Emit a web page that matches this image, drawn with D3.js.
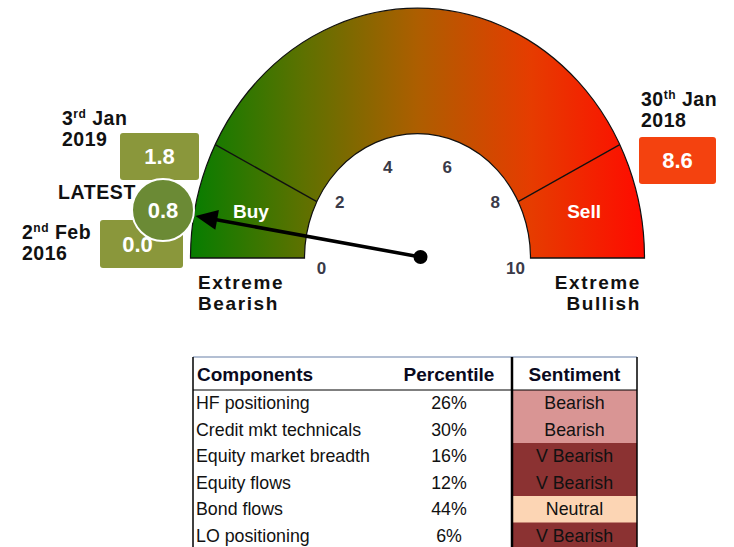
<!DOCTYPE html>
<html>
<head>
<meta charset="utf-8">
<script src="https://cdn.jsdelivr.net/npm/d3@7"></script>
<style>
  body { margin: 0; background: #fff; }
  svg { display: block; font-family: "Liberation Sans", Arial, sans-serif; }
</style>
</head>
<body>
<svg id="chart"></svg>
<script>
// gauge data
const TICKS = [0, 2, 4, 6, 8, 10];
const ZONE_BOUNDS = [1.5, 8.5];
const ZONE_NAMES = ["Buy", "Sell"];
const ZONE_LABEL_AT = [0.8, 9.2];
const LATEST = 0.8;

// historical callouts
const CALLOUT_DAY = ["3", "2", "30"];
const CALLOUT_SUFFIX = ["rd", "nd", "th"];
const CALLOUT_MONTH = ["Jan", "Feb", "Jan"];
const CALLOUT_YEAR = ["2019", "2016", "2018"];
const CALLOUT_VALUES = [1.8, 0.0, 8.6];

// components table
const COMPONENTS = ["HF positioning", "Credit mkt technicals", "Equity market breadth", "Equity flows", "Bond flows", "LO positioning"];
const PERCENTILES = [26, 30, 16, 12, 44, 6];
const SENTIMENTS = ["Bearish", "Bearish", "V Bearish", "V Bearish", "Neutral", "V Bearish"];
const HEADERS = ["Components", "Percentile", "Sentiment"];

const sentimentColor = d3.scaleOrdinal()
  .domain(["Bearish", "V Bearish", "Neutral"])
  .range(["#d99594", "#8b3232", "#fcd5b4"]);

const width = 734;
const height = 547;
const cx = 417.5;
const cy = 258;
const rIn = 113;
const rOut = 227;
const squash = 1.1;

const svg = d3.select("#chart").attr("width", width).attr("height", height);

const angle = d3.scaleLinear().domain([0, 10]).range([-Math.PI / 2, Math.PI / 2]);

// gradient
const defs = svg.append("defs");
const grad = defs.append("linearGradient")
  .attr("id", "gaugeGrad")
  .attr("gradientUnits", "userSpaceOnUse")
  .attr("x1", -rOut).attr("x2", rOut).attr("y1", 0).attr("y2", 0);
[["0", "#067d00"], ["0.25", "#5e7100"], ["0.5", "#ad5e00"], ["0.75", "#e63c00"], ["1", "#ff0a00"]]
  .forEach(([o, c]) => grad.append("stop").attr("offset", o).attr("stop-color", c));

const g = svg.append("g").attr("transform", `translate(${cx},${cy}) scale(1,${squash})`);

const arc = d3.arc().innerRadius(rIn).outerRadius(rOut);
g.append("path")
  .attr("d", arc({ startAngle: angle(0), endAngle: angle(10) }))
  .attr("fill", "url(#gaugeGrad)")
  .attr("stroke", "#111")
  .attr("stroke-width", 1.2);

// zone boundaries
g.selectAll("line.bound")
  .data(ZONE_BOUNDS)
  .join("line")
  .attr("class", "bound")
  .attr("x1", (d) => rIn * Math.sin(angle(d)))
  .attr("y1", (d) => -rIn * Math.cos(angle(d)))
  .attr("x2", (d) => rOut * Math.sin(angle(d)))
  .attr("y2", (d) => -rOut * Math.cos(angle(d)))
  .attr("stroke", "#111")
  .attr("stroke-width", 1.3);

// zone names
svg.selectAll("text.zone")
  .data(ZONE_NAMES)
  .join("text")
  .attr("class", "zone")
  .attr("x", (d, i) => cx + 172 * Math.sin(angle(ZONE_LABEL_AT[i])))
  .attr("y", (d, i) => cy - 172 * Math.cos(angle(ZONE_LABEL_AT[i])) * squash)
  .attr("dy", "0.35em")
  .attr("text-anchor", "middle")
  .attr("font-size", 19)
  .attr("font-weight", "bold")
  .attr("fill", "#fff")
  .text((d) => d);

// tick labels
svg.selectAll("text.tick")
  .data(TICKS)
  .join("text")
  .attr("class", "tick")
  .attr("x", (d) => cx + 96 * Math.sin(angle(d)) + (d === 10 ? 2 : 0))
  .attr("y", (d) => cy - 96 * Math.cos(angle(d)) + (d === 0 || d === 10 ? 10 : 0))
  .attr("dy", "0.35em")
  .attr("text-anchor", "middle")
  .attr("font-size", 17)
  .attr("font-weight", "bold")
  .attr("fill", "#3a3a48")
  .text((d) => d);

// extreme labels
const extremes = [
  { lines: ["Extreme", "Bearish"], x: 198, anchor: "start" },
  { lines: ["Extreme", "Bullish"], x: 641, anchor: "end" },
];
extremes.forEach((e) => {
  svg.append("text")
    .attr("text-anchor", e.anchor)
    .attr("font-size", 19)
    .attr("font-weight", "bold")
    .attr("letter-spacing", 1.6)
    .attr("fill", "#111")
    .selectAll("tspan")
    .data(e.lines)
    .join("tspan")
    .attr("x", e.x)
    .attr("y", (d, i) => 289 + i * 21)
    .text((d) => d);
});

// callouts (layout only)
const calloutLayout = [
  { tx: 62, ty: 125, box: [120, 133, 79, 47], fill: "#8a973b" },
  { tx: 22, ty: 239, box: [100, 220, 83, 48], fill: "#8a973b" },
  { tx: 641, ty: 106, box: [639, 137, 77, 47], fill: "#f4420f" },
];
CALLOUT_VALUES.forEach((v, i) => {
  const L = calloutLayout[i];
  const t = svg.append("text")
    .attr("font-size", 19.5)
    .attr("font-weight", "bold")
    .attr("letter-spacing", 0.5)
    .attr("fill", "#111");
  const l1 = t.append("tspan").attr("x", L.tx).attr("y", L.ty);
  l1.append("tspan").text(CALLOUT_DAY[i]);
  l1.append("tspan").attr("font-size", 12).attr("dy", -7).text(CALLOUT_SUFFIX[i]);
  l1.append("tspan").attr("dy", 7).text(" " + CALLOUT_MONTH[i]);
  t.append("tspan").attr("x", L.tx).attr("y", L.ty + 21).text(CALLOUT_YEAR[i]);

  const [bx, by, bw, bh] = L.box;
  svg.append("rect")
    .attr("x", bx).attr("y", by).attr("width", bw).attr("height", bh)
    .attr("rx", 3)
    .attr("fill", L.fill);
  svg.append("text")
    .attr("x", bx + bw / 2 - (i === 1 ? 4 : 0))
    .attr("y", by + bh / 2)
    .attr("dy", "0.35em")
    .attr("text-anchor", "middle")
    .attr("font-size", 22)
    .attr("font-weight", "bold")
    .attr("fill", "#fff")
    .text(d3.format(".1f")(v));
});

// latest bubble
const bubble = { x: 163, y: 210, r: 31 };
svg.append("text")
  .attr("x", 58).attr("y", 199)
  .attr("font-size", 19.5)
  .attr("font-weight", "bold")
  .attr("letter-spacing", 0.6)
  .attr("fill", "#111")
  .text("LATEST");
svg.append("circle")
  .attr("cx", bubble.x).attr("cy", bubble.y).attr("r", bubble.r)
  .attr("fill", "#6b8a35")
  .attr("stroke", "#fff")
  .attr("stroke-width", 2);
svg.append("text")
  .attr("x", bubble.x).attr("y", bubble.y)
  .attr("dy", "0.35em")
  .attr("text-anchor", "middle")
  .attr("font-size", 22)
  .attr("font-weight", "bold")
  .attr("fill", "#fff")
  .text(d3.format(".1f")(LATEST));

// needle pointing at the latest bubble
const px = cx + 3;
const py = cy - 1;
const dx = bubble.x - px;
const dy = bubble.y - py;
const len = Math.hypot(dx, dy);
const ux = dx / len;
const uy = dy / len;
const tipX = bubble.x - ux * (bubble.r + 2);
const tipY = bubble.y - uy * (bubble.r + 2);
const headLen = 22;
const headW = 10;
const baseX = tipX - ux * headLen;
const baseY = tipY - uy * headLen;
svg.append("line")
  .attr("x1", px).attr("y1", py)
  .attr("x2", baseX + ux * 2).attr("y2", baseY + uy * 2)
  .attr("stroke", "#000")
  .attr("stroke-width", 3.5);
svg.append("path")
  .attr("d", `M${tipX},${tipY}L${baseX - uy * headW},${baseY + ux * headW}L${baseX + uy * headW},${baseY - ux * headW}Z`)
  .attr("fill", "#000");
svg.append("circle").attr("cx", px).attr("cy", py).attr("r", 7).attr("fill", "#000");

// table
const tLeft = 193;
const tRight = 637;
const sentLeft = 512;
const headTop = 357;
const headBottom = 390;
const rowY = d3.scaleBand().domain(d3.range(COMPONENTS.length)).range([headBottom, headBottom + 26.5 * COMPONENTS.length]);
const pctX = 449;

const tbl = svg.append("g");
tbl.selectAll("rect.sent")
  .data(SENTIMENTS)
  .join("rect")
  .attr("class", "sent")
  .attr("x", sentLeft).attr("y", (d, i) => rowY(i))
  .attr("width", tRight - sentLeft).attr("height", rowY.bandwidth() + 0.5)
  .attr("fill", (d) => sentimentColor(d));

tbl.selectAll("text.head")
  .data(HEADERS)
  .join("text")
  .attr("class", "head")
  .attr("x", (d, i) => [tLeft + 4, pctX, (sentLeft + tRight) / 2][i])
  .attr("y", (headTop + headBottom) / 2 + 1)
  .attr("dy", "0.35em")
  .attr("text-anchor", (d, i) => (i === 0 ? "start" : "middle"))
  .attr("font-size", 19)
  .attr("font-weight", "bold")
  .attr("fill", "#0a0a1e")
  .text((d) => d);

tbl.selectAll("text.comp")
  .data(COMPONENTS)
  .join("text")
  .attr("class", "comp")
  .attr("x", tLeft + 3)
  .attr("y", (d, i) => rowY(i) + rowY.bandwidth() / 2)
  .attr("dy", "0.35em")
  .attr("font-size", 17.8)
  .attr("fill", "#111")
  .text((d) => d);

tbl.selectAll("text.pct")
  .data(PERCENTILES)
  .join("text")
  .attr("class", "pct")
  .attr("x", pctX)
  .attr("y", (d, i) => rowY(i) + rowY.bandwidth() / 2)
  .attr("dy", "0.35em")
  .attr("text-anchor", "middle")
  .attr("font-size", 17.8)
  .attr("fill", "#111")
  .text((d) => d + "%");

tbl.selectAll("text.sentText")
  .data(SENTIMENTS)
  .join("text")
  .attr("class", "sentText")
  .attr("x", (sentLeft + tRight) / 2)
  .attr("y", (d, i) => rowY(i) + rowY.bandwidth() / 2)
  .attr("dy", "0.35em")
  .attr("text-anchor", "middle")
  .attr("font-size", 17.8)
  .attr("fill", "#111")
  .text((d) => d);

// table lines
tbl.append("line").attr("x1", tLeft).attr("x2", tRight).attr("y1", headTop).attr("y2", headTop)
  .attr("stroke", "#9aaac4").attr("stroke-width", 1.5);
tbl.append("line").attr("x1", tLeft).attr("x2", tRight).attr("y1", headBottom).attr("y2", headBottom)
  .attr("stroke", "#000").attr("stroke-width", 1);
tbl.append("line").attr("x1", tLeft).attr("x2", tLeft).attr("y1", headTop).attr("y2", height)
  .attr("stroke", "#000").attr("stroke-width", 1.5);
tbl.append("line").attr("x1", sentLeft).attr("x2", sentLeft).attr("y1", headTop).attr("y2", height)
  .attr("stroke", "#000").attr("stroke-width", 2.5);
tbl.append("line").attr("x1", tRight).attr("x2", tRight).attr("y1", headTop).attr("y2", height)
  .attr("stroke", "#000").attr("stroke-width", 1.5);
</script>
</body>
</html>
